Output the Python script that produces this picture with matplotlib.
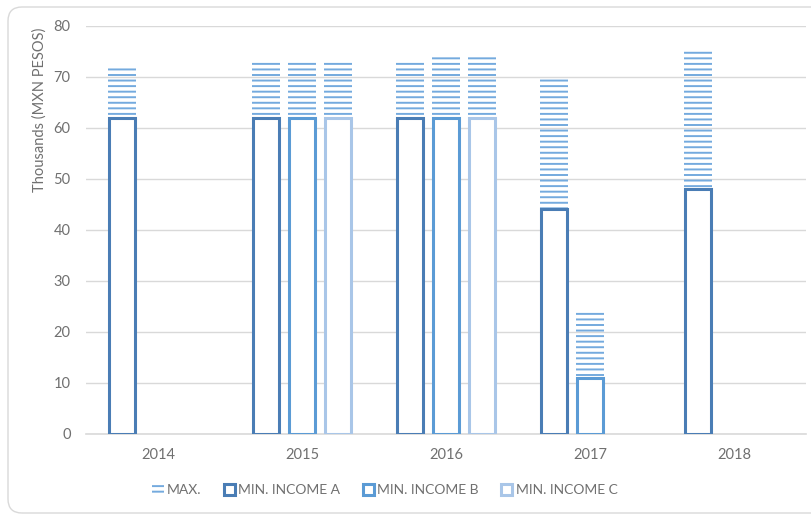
import numpy as np
import matplotlib
matplotlib.use("Agg")
import matplotlib.pyplot as plt
from matplotlib.patches import Patch, FancyBboxPatch
from matplotlib.transforms import IdentityTransform

plt.rcParams['font.family'] = ['Lato', 'DejaVu Sans']
plt.rcParams['hatch.linewidth'] = 1.4

# datos (miles de pesos)
years = ['2014', '2015', '2016', '2017', '2018']
min_a = [62, 62, 62, 44, 48]
min_b = [np.nan, 62, 62, 11, np.nan]
min_c = [np.nan, 62, 62, np.nan, np.nan]
max_a = [72, 73, 73, 70, 75]
max_b = [np.nan, 73, 74, 24, np.nan]
max_c = [np.nan, 73, 74, np.nan, np.nan]

col_a = '#4a7db5'
col_b = '#5b9bd5'
col_c = '#a9c6e8'
col_max = '#74aade'
txt = '#707070'
grid = '#d9d9d9'

fig = plt.figure(figsize=(8.12, 5.14), dpi=100)
ax = fig.add_axes([86 / 812, 1 - 433.7 / 514, 720 / 812, 408 / 514])

x = np.arange(len(years))
off = 0.25
wmax = 0.2
wmin = 0.182

# primero las barras MAX con rayado, luego las minimas encima en blanco
for dx, mx in zip([-off, 0, off], [max_a, max_b, max_c]):
    ax.bar(x + dx, mx, width=wmax, facecolor='none', edgecolor=col_max,
           linewidth=0, hatch='---', zorder=2)
for dx, mn, c in zip([-off, 0, off], [min_a, min_b, min_c], [col_a, col_b, col_c]):
    ax.bar(x + dx, mn, width=wmin, facecolor='white', edgecolor=c,
           linewidth=2.2, zorder=3)

ax.set_xlim(-0.5, 4.5)
ax.set_ylim(0, 80)
ax.set_yticks(range(0, 81, 10))
ax.set_xticks(x)
ax.set_xticklabels(years)
ax.grid(axis='y', color=grid, linewidth=1)
ax.set_axisbelow(True)
for s in ['top', 'right', 'left']:
    ax.spines[s].set_visible(False)
ax.spines['bottom'].set_color(grid)
ax.spines['bottom'].set_linewidth(1.2)
ax.tick_params(length=0, labelsize=10.5, labelcolor=txt)
ax.tick_params(axis='y', pad=11)
ax.tick_params(axis='x', pad=10)

fig.text(40 / 812, 1 - 110 / 514, 'Thousands (MXN PESOS)', rotation=90,
         ha='center', va='center', fontsize=10.5, color=txt)

handles = [Patch(facecolor='white', edgecolor=col_max, linewidth=0, hatch='---'),
           Patch(facecolor='white', edgecolor=col_a, linewidth=2.2),
           Patch(facecolor='white', edgecolor=col_b, linewidth=2.2),
           Patch(facecolor='white', edgecolor=col_c, linewidth=2.2)]
labels = ['MAX.', 'MIN. INCOME A', 'MIN. INCOME B', 'MIN. INCOME C']
fig.legend(handles, labels, loc='center', bbox_to_anchor=(385 / 812, 1 - 490 / 514),
           ncol=4, frameon=False, fontsize=10, labelcolor=txt,
           handlelength=0.8, handleheight=0.8, handletextpad=0.25,
           columnspacing=1.6)

# marco redondeado del grafico
border = FancyBboxPatch((8, 1), 840, 506, boxstyle='round,pad=0,rounding_size=14',
                        transform=IdentityTransform(), facecolor='none',
                        edgecolor=grid, linewidth=1)
fig.patches.append(border)

fig.savefig('out.png', dpi=100)
